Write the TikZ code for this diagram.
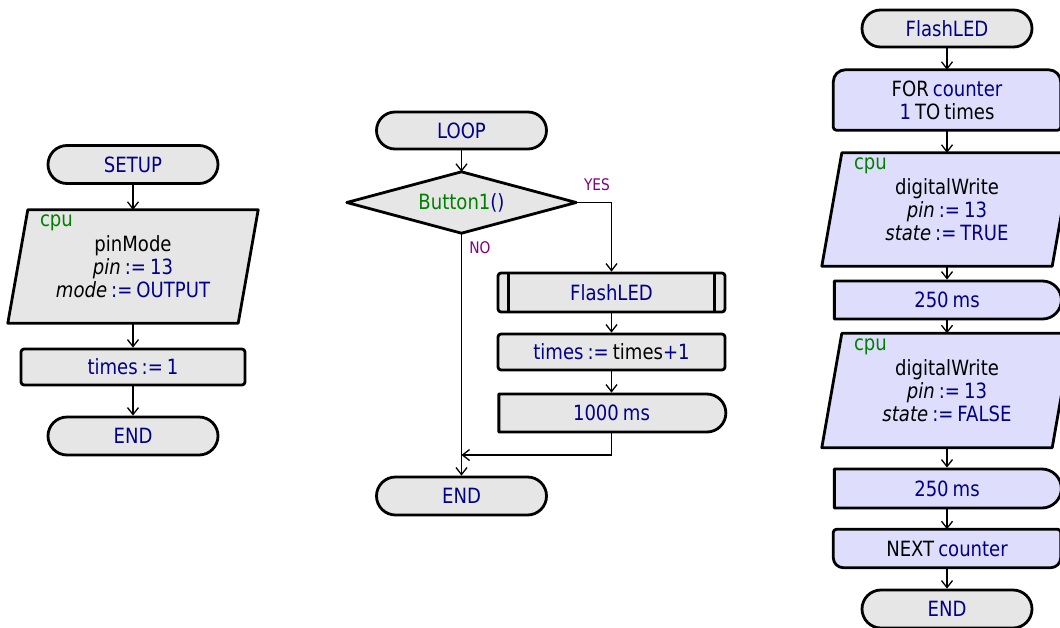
\documentclass[tikz,border=0pt]{standalone}
\usepackage{fontspec}
\setmainfont{DejaVu Sans}[FakeStretch=0.86,WordSpace=0.7]
\usetikzlibrary{arrows.meta,shapes.misc,calc}
\pgfdeclarelayer{bg}
\pgfsetlayers{bg,main}
\definecolor{fcblue}{RGB}{0,0,140}
\definecolor{fcgreen}{RGB}{0,128,0}
\definecolor{fcpurple}{RGB}{128,0,128}
\definecolor{fcgray}{RGB}{230,230,230}
\definecolor{fclav}{RGB}{222,222,252}
\newcommand\fcK[1]{\textcolor{black}{#1}}
\newcommand\fcG[1]{\textcolor{fcgreen}{#1}}
\tikzset{
  bd/.style={draw=black, line width=2.8pt, line join=round},
  txt/.style={font=\fontsize{21}{23}\selectfont, text=fcblue, align=center, inner sep=0pt},
  term/.style={rounded rectangle, bd, fill=fcgray, minimum width=170pt, minimum height=38pt, txt},
  proc/.style={rectangle, rounded corners=3pt, bd, minimum width=227pt, minimum height=37pt, txt},
  delaybox/.style={rounded rectangle, rounded rectangle left arc=none, bd, minimum width=227pt, minimum height=38pt, txt},
  iobox/.style={txt, minimum width=250pt, minimum height=113pt},
  cpulbl/.style={txt, text=fcgreen, anchor=base west},
  lbl/.style={font=\fontsize{16}{18}\selectfont, text=fcpurple, inner sep=0pt},
  conn/.style={line width=1.3pt, -{Straight Barb[length=7pt,width=11pt]}},
  plain/.style={line width=1.3pt}
}
\begin{document}
\begin{tikzpicture}[x=1pt,y=1pt]
\useasboundingbox (0,0) rectangle (1060,-627);
\clip (0,0) rectangle (1060,-627);

% ---------- left: SETUP ----------
\node[term] (setup) at (133,-164.5) {SETUP};
\node[iobox] (io1) at (133,-266.5) {\fcK{pinMode}\\\fcK{\textit{pin}} := 13\\\fcK{\textit{mode}} := OUTPUT};
\node[cpulbl] (cpu1) at ($(io1.north west)+(32,-17)$) {cpu};
\node[proc, fill=fcgray, minimum width=224pt, minimum height=36pt] (times1) at (133,-367) {times := 1};
\node[term] (end1) at (133,-436) {END};
\begin{pgfonlayer}{bg}
\path[bd, fill=fcgray] ([xshift=20pt]io1.north west) -- (io1.north east) -- ([xshift=-20pt]io1.south east) -- (io1.south west) -- cycle;
\end{pgfonlayer}
\draw[conn] (setup.south) -- (io1.north);
\draw[conn] (io1.south) -- (times1.north);
\draw[conn] (times1.south) -- (end1.north);

% ---------- middle: LOOP ----------
\node[term, minimum height=37pt] (loop) at (461.5,-130.5) {LOOP};
\node[txt, minimum width=229pt, minimum height=61pt] (dia) at (461.5,-202.5) {\fcG{Button1}()};
\node[proc, fill=fcgray, minimum height=39pt] (flash) at (611.5,-292.5) {FlashLED};
\node[proc, fill=fcgray, minimum height=36pt] (inc) at (611.5,-352) {times := \fcK{times}+1};
\node[delaybox, fill=fcgray] (delay1) at (611.5,-413) {1000 ms};
\node[term] (end2) at (461.5,-496) {END};
\node[lbl] (yes) at (597,-185) {YES};
\node[lbl] (no) at (480,-248) {NO};
\coordinate (mrg) at (461.5,-455);
\begin{pgfonlayer}{bg}
\path[bd, fill=fcgray] (dia.north) -- (dia.east) -- (dia.south) -- (dia.west) -- cycle;
\end{pgfonlayer}
\draw[bd] ([xshift=12pt]flash.north west) -- ([xshift=12pt]flash.south west);
\draw[bd] ([xshift=-12pt]flash.north east) -- ([xshift=-12pt]flash.south east);
\draw[conn] (loop.south) -- (dia.north);
\draw[conn] (dia.east) -| (flash.north);
\draw[conn] (dia.south) -- (end2.north);
\draw[conn] (flash.south) -- (inc.north);
\draw[conn] (inc.south) -- (delay1.north);
\draw[conn] (delay1.south) |- (mrg);

% ---------- right: FlashLED ----------
\node[term, minimum height=37pt] (fstart) at (947,-28.5) {FlashLED};
\node[txt, minimum width=227pt, minimum height=60pt] (forb) at (947,-100) {\fcK{FOR} counter\\1 \fcK{TO times}};
\node[iobox] (io2) at (947,-209.5) {\fcK{digitalWrite}\\\fcK{\textit{pin}} := 13\\\fcK{\textit{state}} := TRUE};
\node[cpulbl] (cpu2) at ($(io2.north west)+(32,-17)$) {cpu};
\node[delaybox, fill=fclav] (d250a) at (947,-300) {250 ms};
\node[iobox, minimum height=114pt] (io3) at (947,-390.5) {\fcK{digitalWrite}\\\fcK{\textit{pin}} := 13\\\fcK{\textit{state}} := FALSE};
\node[cpulbl] (cpu3) at ($(io3.north west)+(32,-17)$) {cpu};
\node[delaybox, fill=fclav, minimum height=39pt] (d250b) at (947,-488.5) {250 ms};
\node[txt, minimum width=227pt, minimum height=38pt] (nextb) at (947,-548.5) {\fcK{NEXT} counter};
\node[term] (end3) at (947,-609) {END};
\begin{pgfonlayer}{bg}
\path[bd, fill=fclav] ([xshift=3pt]forb.south west) -- ([xshift=-3pt]forb.south east)
  arc[start angle=-90,end angle=0,radius=3pt] -- ([yshift=-12pt]forb.north east)
  arc[start angle=0,end angle=90,radius=12pt] -- ([xshift=12pt]forb.north west)
  arc[start angle=90,end angle=180,radius=12pt] -- ([yshift=3pt]forb.south west)
  arc[start angle=180,end angle=270,radius=3pt] -- cycle;
\path[bd, fill=fclav] ([xshift=20pt]io2.north west) -- (io2.north east) -- ([xshift=-20pt]io2.south east) -- (io2.south west) -- cycle;
\path[bd, fill=fclav] ([xshift=20pt]io3.north west) -- (io3.north east) -- ([xshift=-20pt]io3.south east) -- (io3.south west) -- cycle;
\path[bd, fill=fclav] ([xshift=10pt]nextb.south west) -- ([xshift=-10pt]nextb.south east)
  arc[start angle=-90,end angle=0,radius=10pt] -- ([yshift=-3pt]nextb.north east)
  arc[start angle=0,end angle=90,radius=3pt] -- ([xshift=3pt]nextb.north west)
  arc[start angle=90,end angle=180,radius=3pt] -- ([yshift=10pt]nextb.south west)
  arc[start angle=180,end angle=270,radius=10pt] -- cycle;
\end{pgfonlayer}
\draw[conn] (fstart.south) -- (forb.north);
\draw[conn] (forb.south) -- (io2.north);
\draw[conn] (io2.south) -- (d250a.north);
\draw[conn] (d250a.south) -- (io3.north);
\draw[conn] (io3.south) -- (d250b.north);
\draw[conn] (d250b.south) -- (nextb.north);
\draw[conn] (nextb.south) -- (end3.north);
\end{tikzpicture}
\end{document}
